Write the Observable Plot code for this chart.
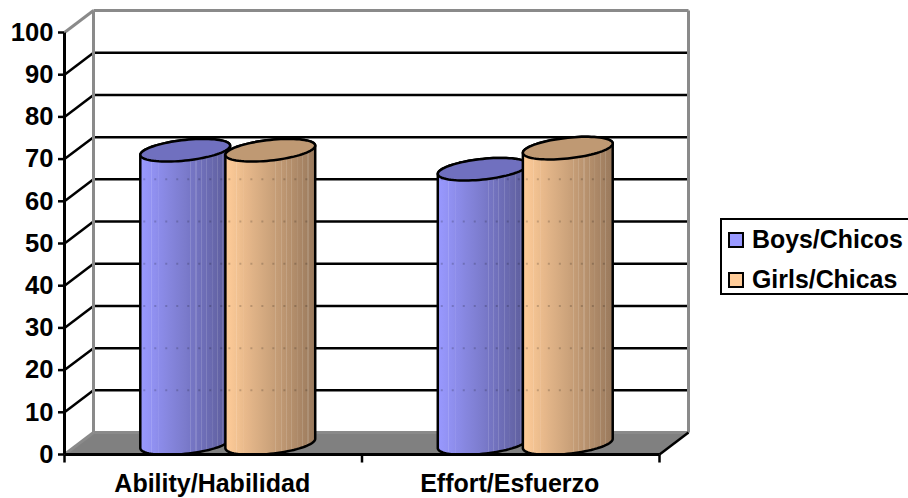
<!DOCTYPE html>
<html>
<head>
<meta charset="utf-8">
<script src="https://cdn.jsdelivr.net/npm/d3@7"></script>
<script src="https://cdn.jsdelivr.net/npm/@observablehq/plot@0.6"></script>
<style>
html,body{margin:0;padding:0;background:#fff;width:908px;height:498px;overflow:hidden}
#chart{position:relative;width:908px;height:498px;font-family:"Liberation Sans",Arial,sans-serif;font-weight:700;color:#000}
#chart svg{position:absolute;left:0;top:0;overflow:visible}
#legend{position:absolute;left:720px;top:218px;width:190px;height:73px;border:2.5px solid #000;box-sizing:content-box;background:#fff}
.row{position:absolute;left:6px;font-size:24.9px;line-height:28px;white-space:nowrap;height:28px}
.row i{display:inline-block;position:absolute;left:0;top:6px;width:12px;height:12px;border:2px solid #000}
.row span{position:absolute;left:24px;top:-1px}
</style>
</head>
<body>
<div id="chart"></div>
<script>
const categories = ["Ability/Habilidad", "Effort/Esfuerzo"];
const boys = [69.5, 65];
const girls = [69.5, 70];
const yTicks = [0, 10, 20, 30, 40, 50, 60, 70, 80, 90, 100];
const seriesNames = ["Boys/Chicos", "Girls/Chicas"];
const sideColors = [["#9999FF", "#5C5C99"], ["#FFCC99", "#99795C"]];
const capColors = ["#7070BF", "#BF9973"];

// oblique projection depth, expressed in data units
const depthX = 0.0975, depthY = 5.2;
const halfBar = 0.151, barOffset = 0.143;
const capB = 2.45, capS = 1.1;
const stripes = [0.12, 0.2, 0.56, 0.62, 0.68, 0.74, 0.8, 0.86, 0.92];

function ellipsePoint(cx, base, t) {
  return {
    x: cx + depthX / 2 + halfBar * Math.cos(t),
    y: base + depthY / 2 + capB * Math.sin(t) + capS * Math.cos(t)
  };
}
const steps = d3.range(0, 41).map(i => i / 40 * Math.PI);
function bodyOutline(cx, v) {
  const lower = steps.map(t => ellipsePoint(cx, 0, Math.PI + t));
  const upper = steps.map(t => ellipsePoint(cx, v, t));
  return [...lower, ...upper];
}
function capOutline(cx, v) {
  return d3.range(0, 81).map(i => ellipsePoint(cx, v, i / 80 * 2 * Math.PI));
}

function gradientDefs() {
  const defs = d3.create("svg:defs");
  sideColors.forEach(([a, b], k) => {
    const g = defs.append("linearGradient").attr("id", "side" + k)
      .attr("x1", 0).attr("x2", 1).attr("y1", 0).attr("y2", 0);
    const mix = d3.interpolateRgb(a, b);
    const w = 0.006;
    const stops = [];
    d3.range(0, 21).forEach(i => stops.push([i / 20, mix(i / 20)]));
    stripes.forEach(s => {
      const c = d3.interpolateRgb(mix(s), "#fff")(0.13);
      stops.push([s - w, mix(s - w)], [s - w, c], [s + w, c], [s + w, mix(s + w)]);
    });
    stops.sort((p, q) => p[0] - q[0]);
    stops.forEach(([o, c]) => g.append("stop").attr("offset", o).attr("stop-color", c));
  });
  return defs.node();
}

const sk = {stroke: "#000", strokeWidth: 2.5};
const gray = {stroke: "#8a8a8a", strokeWidth: 3};
const floor = [
  {x: 0, y: 0}, {x: 2, y: 0},
  {x: 2 + depthX, y: depthY}, {x: depthX, y: depthY}, {x: 0, y: 0}
];
const topY = 100 + depthY;
const segment = (x1, y1, x2, y2) => ({x1, y1, x2, y2});
const seg = {x1: "x1", y1: "y1", x2: "x2", y2: "y2"};

const gridBack = yTicks.slice(1, -1).map(v => segment(depthX, v + depthY, 2 + depthX, v + depthY));
const gridSide = yTicks.slice(1, -1).map(v => segment(0, v, depthX, v + depthY));
const wall = [
  segment(depthX, depthY, depthX, topY),
  segment(2 + depthX, depthY, 2 + depthX, topY),
  segment(depthX, topY, 2 + depthX, topY),
  segment(depthX, depthY, 2 + depthX, depthY),
  segment(0, 100, depthX, topY),
  segment(0, 0, depthX, depthY)
];

const bars = [];
categories.forEach((c, i) => {
  bars.push({k: 0, cx: i + 0.5 - barOffset, v: boys[i]});
  bars.push({k: 1, cx: i + 0.5 + barOffset, v: girls[i]});
});

const barMarks = bars.flatMap(b => [
  Plot.line(bodyOutline(b.cx, b.v), {x: "x", y: "y", fill: `url(#side${b.k})`, ...sk, strokeLinejoin: "round", curve: "linear-closed"}),
  // faint specks where the gridlines show through the bar
  Plot.link(
    yTicks.slice(1, -1).filter(v => v + depthY < b.v + 1)
      .map(v => segment(b.cx + depthX / 2 - halfBar + 0.01, v + depthY, b.cx + depthX / 2 + halfBar - 0.01, v + depthY)),
    {...seg, stroke: "#000", strokeWidth: 2, strokeOpacity: 0.18, strokeDasharray: "2 9"}
  ),
  Plot.line(capOutline(b.cx, b.v), {x: "x", y: "y", fill: capColors[b.k], ...sk, strokeLinejoin: "round"})
]);

const plot = Plot.plot({
  width: 908, height: 498,
  marginLeft: 64, marginRight: 249, marginTop: 32, marginBottom: 44,
  style: {background: "transparent", fontFamily: '"Liberation Sans",Arial,sans-serif', color: "#000"},
  x: {type: "linear", domain: [0, 2], axis: null},
  y: {type: "linear", domain: [0, 100], axis: null},
  marks: [
    gradientDefs,
    Plot.line(floor, {x: "x", y: "y", fill: "#808080", stroke: "none"}),
    Plot.link(gridBack, {...seg, ...sk}),
    Plot.link(gridSide, {...seg, ...sk}),
    Plot.link(wall, {...seg, ...gray}),
    Plot.link([segment(2, 0, 2 + depthX, depthY)], {...seg, ...sk}),
    ...barMarks,
    Plot.link([segment(0, 0, 0, 100), segment(0, 0, 2, 0)], {...seg, stroke: "#000", strokeWidth: 3}),
    Plot.axisY({ticks: yTicks, label: null, tickSize: 6, tickPadding: 5, fontSize: 25.6, fontWeight: 700, stroke: "#000", strokeWidth: 2.5}),
    Plot.link([0, 1, 2].map(x => segment(x, 0, x, -1.9)), {...seg, ...sk}),
    Plot.text(categories, {x: (d, i) => i + 0.5, y: () => 0, dx: -1, dy: 29, fontSize: 25, fontWeight: 700, fill: "#000"})
  ]
});

const chart = document.getElementById("chart");
chart.appendChild(plot);

const legend = document.createElement("div");
legend.id = "legend";
seriesNames.forEach((name, i) => {
  const row = document.createElement("div");
  row.className = "row";
  row.style.top = (6 + i * 40) + "px";
  const sw = document.createElement("i");
  sw.style.background = sideColors[i][0];
  const tx = document.createElement("span");
  tx.textContent = name;
  row.append(sw, tx);
  legend.appendChild(row);
});
chart.appendChild(legend);
</script>
</body>
</html>
